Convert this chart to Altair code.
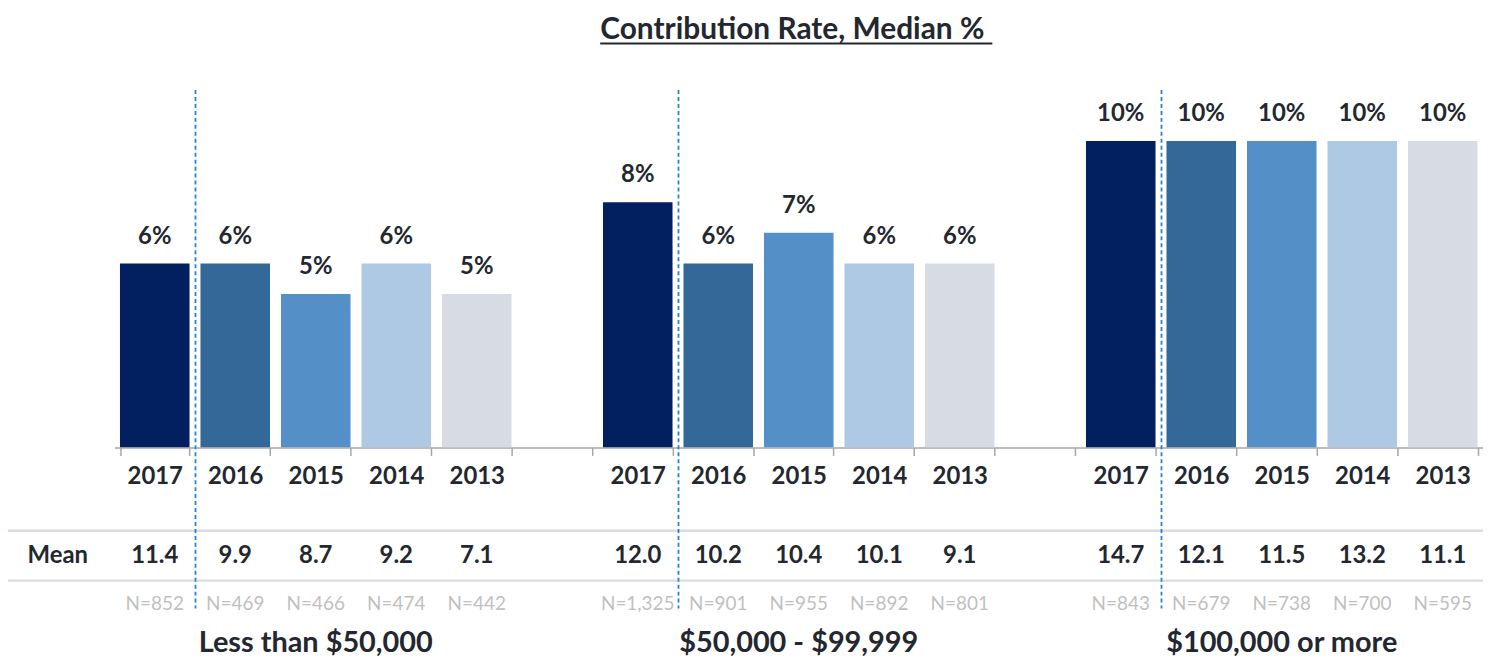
import altair as alt
import pandas as pd

groups = ["Less than $50,000", "$50,000 - $99,999", "$100,000 or more"]
years = ["2017", "2016", "2015", "2014", "2013"]
median_pct = [[6, 6, 5, 6, 5], [8, 6, 7, 6, 6], [10, 10, 10, 10, 10]]
mean_rate = [[11.4, 9.9, 8.7, 9.2, 7.1], [12.0, 10.2, 10.4, 10.1, 9.1], [14.7, 12.1, 11.5, 13.2, 11.1]]
n_resp = [[852, 469, 466, 474, 442], [1325, 901, 955, 892, 801], [843, 679, 738, 700, 595]]
year_colors = ["#02205f", "#346899", "#558fc8", "#aec9e4", "#d7dce4"]
title_text = "Contribution Rate, Median %"

rows = []
domain = []
for gi, g in enumerate(groups):
    for yi, yr in enumerate(years):
        key = f"g{gi}|{yr}"
        domain.append(key)
        rows.append(dict(cat=key, group=g, year=yr, median=median_pct[gi][yi],
                         mean=mean_rate[gi][yi], n=n_resp[gi][yi]))
    if gi < len(groups) - 1:
        domain.append(f"gap{gi}|")
df = pd.DataFrame(rows)

FONT = "Lato"
DARK = "#23272f"
MEAN_Y = -3.55
N_Y = -5.12
GROUP_Y = -6.38
RULE1_Y = -2.72
RULE2_Y = -4.35
DIV_TOP = 11.66
DIV_BOT = -5.26
TITLE_Y = 13.31
TITLE_LINE_Y = 13.18

xscale = alt.Scale(domain=domain, paddingInner=0.136, paddingOuter=0.068)
x_axis_def = alt.Axis(labelExpr="split(datum.value, '|')[1]", labelAngle=0,
                      tickBand="extent", offset=-200, domainColor="#a6a6a6",
                      domainWidth=1.5, tickColor="#a6a6a6", tickWidth=1.5,
                      tickSize=8, labelFont=FONT, labelFontSize=24,
                      labelFontWeight="bold", labelColor=DARK, labelPadding=9,
                      title=None, grid=False)
x_enc = alt.X("cat:N", scale=xscale, axis=x_axis_def)
yscale = alt.Scale(domain=[-6.5, 12.5], nice=False, zero=False)


def yq(field):
    return alt.Y(field, type="quantitative", scale=yscale, axis=None)


first_only = "datum.cat == 'g0|2017'"

bars = alt.Chart().transform_calculate(zero="0").mark_bar().encode(
    x=x_enc,
    y=yq("median"),
    y2="zero:Q",
    color=alt.Color("year:N", scale=alt.Scale(domain=years, range=year_colors), legend=None),
)

bar_labels = alt.Chart().transform_calculate(lbl="datum.median + '%'").mark_text(
    font=FONT, fontSize=24, fontWeight="bold", color=DARK, baseline="alphabetic", dy=-20
).encode(x=x_enc, y=yq("median"), text="lbl:N")

mean_text = alt.Chart().transform_calculate(
    lbl="format(datum.mean, '.1f')", ry=str(MEAN_Y)
).mark_text(font=FONT, fontSize=24, fontWeight="bold", color=DARK, baseline="middle"
).encode(x=x_enc, y=yq("ry"), text="lbl:N")

n_text = alt.Chart().transform_calculate(
    lbl="'N=' + format(datum.n, ',')", ry=str(N_Y)
).mark_text(font=FONT, fontSize=19, color="#bfbfbf", baseline="middle"
).encode(x=x_enc, y=yq("ry"), text="lbl:N")

group_text = alt.Chart().transform_filter("datum.year == '2015'").transform_calculate(
    ry=str(GROUP_Y)
).mark_text(font=FONT, fontSize=29, fontWeight="bold", color=DARK, baseline="middle"
).encode(x=x_enc, y=yq("ry"), text="group:N")

dividers = alt.Chart().transform_filter("datum.year == '2016'").transform_calculate(
    ry=str(DIV_TOP), ry2=str(DIV_BOT)
).mark_rule(color="#2383d8", strokeDash=[4, 3], strokeWidth=1.8, xOffset=-5
).encode(x=alt.X("cat:N", scale=xscale, axis=x_axis_def, bandPosition=0),
         y=yq("ry"), y2="ry2:Q")

rule1 = alt.Chart().transform_filter(first_only).transform_calculate(ry=str(RULE1_Y)).mark_rule(
    color="#d9dce6", strokeWidth=2.5
).encode(x=alt.value(-115), x2=alt.value(1375), y=yq("ry"))

rule2 = alt.Chart().transform_filter(first_only).transform_calculate(ry=str(RULE2_Y)).mark_rule(
    color="#d9dce6", strokeWidth=2.5
).encode(x=alt.value(-115), x2=alt.value(1375), y=yq("ry"))

mean_label = alt.Chart().transform_filter(first_only).transform_calculate(
    ry=str(MEAN_Y), lbl="'Mean'"
).mark_text(font=FONT, fontSize=24, fontWeight="bold", color=DARK, baseline="middle"
).encode(x=alt.value(-57), y=yq("ry"), text="lbl:N")

title_mark = alt.Chart().transform_filter(first_only).transform_calculate(
    ry=str(TITLE_Y), lbl=f"'{title_text}'"
).mark_text(font=FONT, fontSize=30, fontWeight="bold", color=DARK, baseline="alphabetic"
).encode(x=alt.value(681), y=yq("ry"), text="lbl:N")

title_line = alt.Chart().transform_filter(first_only).transform_calculate(
    ry=str(TITLE_LINE_Y)
).mark_rule(color=DARK, strokeWidth=2).encode(
    x=alt.value(488), x2=alt.value(882), y=yq("ry"))

chart = alt.layer(
    rule1, rule2, bars, bar_labels, mean_text, n_text, group_text, mean_label,
    dividers, title_mark, title_line, data=df
).properties(
    width=1375, height=585,
    padding={"left": 107, "right": 0, "top": 55, "bottom": 11},
    autosize=alt.AutoSizeParams(type="none"),
).configure_view(stroke=None)

chart.save("out.html", embed_options={"renderer": "svg", "actions": False})
